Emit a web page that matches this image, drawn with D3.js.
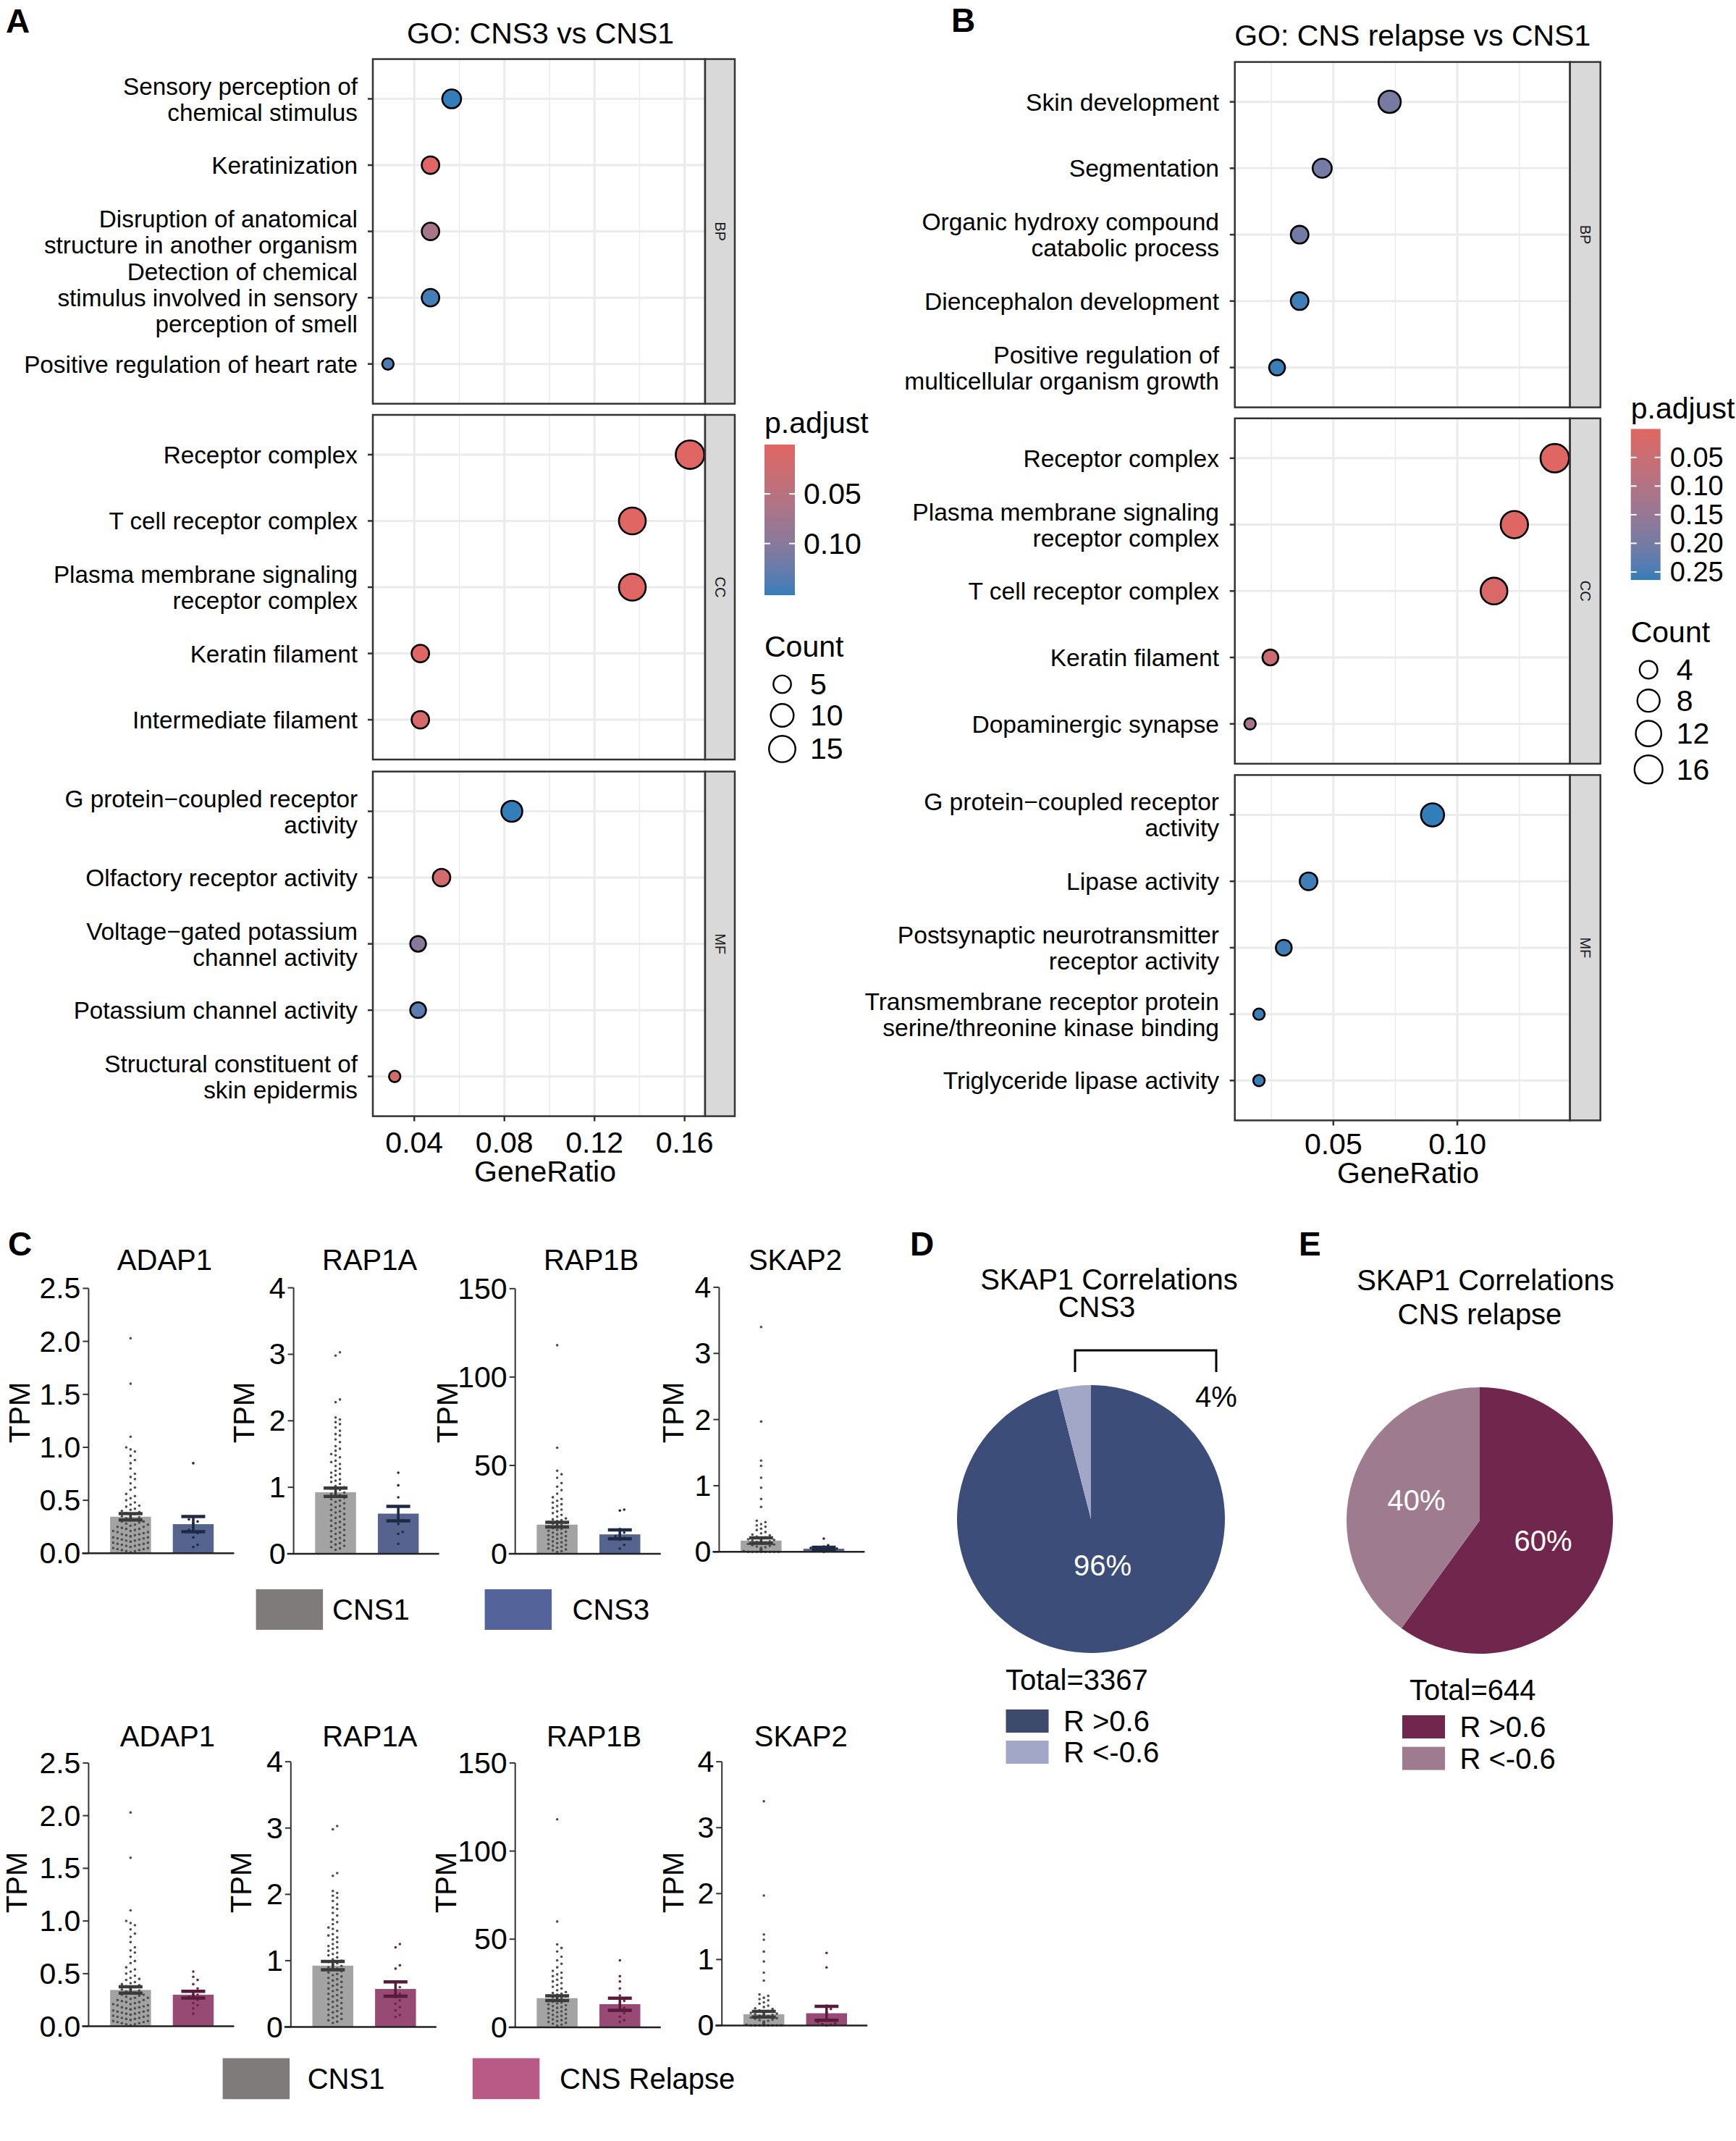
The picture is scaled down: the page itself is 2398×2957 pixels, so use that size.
<!DOCTYPE html>
<html>
<head>
<meta charset="utf-8">
<script src="https://cdn.jsdelivr.net/npm/d3@7"></script>
<style>
  body { margin: 0; background: #fff; }
  svg text { font-family: "Liberation Sans", Arial, Helvetica, sans-serif; fill: #000; }
</style>
</head>
<body>
<svg id="fig" width="2398" height="2957"></svg>
<script>
// 1: DATA

// panel A - GO: CNS3 vs CNS1
const goA_terms = [
  "Sensory perception of\nchemical stimulus", "Keratinization",
  "Disruption of anatomical\nstructure in another organism",
  "Detection of chemical\nstimulus involved in sensory\nperception of smell",
  "Positive regulation of heart rate",
  "Receptor complex", "T cell receptor complex",
  "Plasma membrane signaling\nreceptor complex", "Keratin filament", "Intermediate filament",
  "G protein\u2212coupled receptor\nactivity", "Olfactory receptor activity",
  "Voltage\u2212gated potassium\nchannel activity", "Potassium channel activity",
  "Structural constituent of\nskin epidermis"
];
const goA_ont = ["BP","BP","BP","BP","BP","CC","CC","CC","CC","CC","MF","MF","MF","MF","MF"];
const goA_ratio = [0.0566, 0.0472, 0.0472, 0.0472, 0.0283, 0.1624, 0.1368, 0.1368, 0.0427, 0.0427,
                   0.0833, 0.0521, 0.0417, 0.0417, 0.0313];
const goA_count = [6, 5, 5, 5, 3, 19, 16, 16, 5, 5, 8, 5, 4, 4, 3];
const goA_padj = [0.152, 0.002, 0.07, 0.145, 0.142, 0.0003, 0.001, 0.003, 0.002, 0.012,
                  0.152, 0.02, 0.1, 0.135, 0.015];
const goA_xMajor = [0.04, 0.08, 0.12, 0.16];
const goA_xMinor = [0.06, 0.10, 0.14];
const goA_colorBreaks = [0.05, 0.10];
const goA_sizeBreaks = [5, 10, 15];

// panel B - GO: CNS relapse vs CNS1
const goB_terms = [
  "Skin development", "Segmentation", "Organic hydroxy compound\ncatabolic process",
  "Diencephalon development", "Positive regulation of\nmulticellular organism growth",
  "Receptor complex", "Plasma membrane signaling\nreceptor complex", "T cell receptor complex",
  "Keratin filament", "Dopaminergic synapse",
  "G protein\u2212coupled receptor\nactivity", "Lipase activity",
  "Postsynaptic neurotransmitter\nreceptor activity",
  "Transmembrane receptor protein\nserine/threonine kinase binding", "Triglyceride lipase activity"
];
const goB_ont = ["BP","BP","BP","BP","BP","CC","CC","CC","CC","CC","MF","MF","MF","MF","MF"];
const goB_ratio = [0.0727, 0.0455, 0.0364, 0.0364, 0.0273, 0.1393, 0.1230, 0.1148, 0.0246, 0.0164,
                   0.09, 0.04, 0.03, 0.02, 0.02];
const goB_count = [8, 5, 4, 4, 3, 17, 15, 14, 3, 2, 9, 4, 3, 2, 2];
const goB_padj = [0.198, 0.2, 0.205, 0.256, 0.26, 0.0002, 0.004, 0.015, 0.05, 0.12,
                  0.264, 0.255, 0.255, 0.26, 0.26];
const goB_xMajor = [0.05, 0.10];
const goB_xMinor = [0.025, 0.075, 0.125];
const goB_colorBreaks = [0.05, 0.10, 0.15, 0.20, 0.25];
const goB_sizeBreaks = [4, 8, 12, 16];

const ontologies = ["BP", "CC", "MF"];

// panel C - TPM bar charts
const genes = ["ADAP1", "RAP1A", "RAP1B", "SKAP2"];
const geneMax = [2.5, 4, 150, 4];
const geneTicks = [[0, 0.5, 1, 1.5, 2, 2.5], [0, 1, 2, 3, 4], [0, 50, 100, 150], [0, 1, 2, 3, 4]];
const cns1Mean = [0.345, 0.925, 16.5, 0.17];
const cns1Sem = [0.03, 0.062, 1.3, 0.042];
const cns3Mean = [0.275, 0.604, 11, 0.047];
const cns3Sem = [0.072, 0.108, 2.5, 0.021];
const relapseMean = [0.30, 0.573, 13.1, 0.185];
const relapseSem = [0.032, 0.108, 3.45, 0.106];

const cns1Points = [
  [2.03, 1.6, 1.1, 1.0, 0.98, 0.96, 0.92, 0.88, 0.85, 0.80, 0.75, 0.72, 0.70, 0.66, 0.62, 0.60,
   0.56, 0.54, 0.52, 0.50, 0.48, 0.46, 0.45, 0.44, 0.42, 0.41, 0.40, 0.39, 0.38, 0.37, 0.36, 0.35,
   0.34, 0.33, 0.32, 0.31, 0.30, 0.30, 0.29, 0.28, 0.27, 0.27, 0.26, 0.25, 0.25, 0.24, 0.23, 0.23,
   0.22, 0.21, 0.21, 0.20, 0.20, 0.19, 0.18, 0.18, 0.17, 0.17, 0.16, 0.16, 0.15, 0.15, 0.14, 0.14,
   0.13, 0.13, 0.12, 0.12, 0.11, 0.11, 0.10, 0.10, 0.09, 0.09, 0.08, 0.08, 0.07, 0.07, 0.06, 0.06,
   0.05, 0.05, 0.04, 0.04, 0.03, 0.03, 0.02, 0.02, 0.01],
  [3.03, 2.98, 2.32, 2.28, 2.05, 2.02, 1.98, 1.95, 1.90, 1.85, 1.80, 1.78, 1.72, 1.68, 1.62, 1.58,
   1.55, 1.50, 1.48, 1.45, 1.40, 1.38, 1.35, 1.32, 1.28, 1.25, 1.22, 1.20, 1.18, 1.15, 1.12, 1.10,
   1.08, 1.05, 1.02, 1.00, 0.98, 0.96, 0.94, 0.92, 0.90, 0.88, 0.86, 0.84, 0.82, 0.80, 0.78, 0.76,
   0.74, 0.72, 0.70, 0.68, 0.66, 0.64, 0.62, 0.60, 0.58, 0.56, 0.54, 0.52, 0.50, 0.48, 0.46, 0.44,
   0.42, 0.40, 0.38, 0.36, 0.34, 0.32, 0.30, 0.28, 0.26, 0.24, 0.22, 0.20, 0.18, 0.16, 0.14, 0.12,
   0.10, 0.08, 0.06],
  [118, 60, 47, 45, 43, 40, 38, 36, 34, 32, 31, 30, 29, 28, 27, 26, 25, 24, 23, 22, 21, 20, 19.5,
   19, 18.5, 18, 17.5, 17, 16.5, 16, 15.5, 15, 14.5, 14, 13.5, 13, 12.5, 12, 11.5, 11, 10.5, 10,
   9.5, 9, 8.5, 8, 7.5, 7, 6.5, 6, 5.5, 5, 4.5, 4, 3.5, 3, 2.5, 2, 1.5, 1],
  [3.4, 1.97, 1.38, 1.3, 1.12, 0.97, 0.8, 0.68, 0.47, 0.45, 0.42, 0.4, 0.38, 0.35, 0.33, 0.3, 0.28,
   0.26, 0.25, 0.23, 0.22, 0.2, 0.19, 0.18, 0.17, 0.16, 0.15, 0.14, 0.13, 0.12, 0.11, 0.1, 0.09,
   0.08, 0.07, 0.06, 0.05, 0.05, 0.04, 0.04, 0.03, 0.03, 0.03, 0.02, 0.02, 0.02, 0.01, 0.01, 0.01,
   0.01, 0, 0, 0, 0, 0, 0, 0, 0]
];
const cns3Points = [
  [0.85, 0.32, 0.30, 0.28, 0.22, 0.20, 0.19, 0.15, 0.08, 0.06],
  [1.22, 1.03, 0.85, 0.55, 0.50, 0.45, 0.33, 0.30, 0.15],
  [25, 24.5, 14, 12, 11, 10, 9, 8, 5, 3],
  [0.2, 0.1, 0.08, 0.06, 0.05, 0.04, 0.03, 0.02, 0.01, 0]
];
const relapsePoints = [
  [0.52, 0.47, 0.44, 0.40, 0.36, 0.33, 0.30, 0.28, 0.27, 0.25, 0.22, 0.20, 0.17, 0.12],
  [1.25, 1.20, 0.93, 0.88, 0.60, 0.55, 0.50, 0.45, 0.40, 0.35, 0.30, 0.25, 0.18, 0.15],
  [38, 29, 26, 22, 18, 15, 13, 11, 10, 8, 6, 4, 3],
  [1.1, 0.88, 0.3, 0.25, 0.2, 0.1, 0.05, 0.03, 0.02, 0.01, 0]
];

// panels D, E - SKAP1 correlations
const pieLabels = ["R >0.6", "R <-0.6"];
const pieD = [96, 4];
const pieE = [60, 40];
const totalD = 3367;
const totalE = 644;

// 2: HELPERS
const svg = d3.select("#fig");

function label(x, y, txt, size, anchor, opts = {}) {
  const t = svg.append("text")
    .attr("x", x).attr("y", y)
    .attr("font-size", size + "px")
    .attr("text-anchor", anchor || "start")
    .attr("dominant-baseline", "central")
    .text(txt);
  if (opts.bold) t.attr("font-weight", "bold");
  if (opts.fill) t.style("fill", opts.fill);
  if (opts.rotate) t.attr("transform", `rotate(${opts.rotate},${x},${y})`);
  return t;
}

// ggplot-like continuous expansion
function expand5(ext) {
  const d = (ext[1] - ext[0]) * 0.05;
  return [ext[0] - d, ext[1] + d];
}

// 3: GO DOT PLOTS
function dotPlot(o) {
  const x = d3.scaleLinear().domain(expand5(d3.extent(o.ratio))).range([o.left, o.right]);
  const color = d3.scaleLinear().domain(d3.extent(o.padj))
    .range(["#e06663", "#327eba"]).interpolate(d3.interpolateLab);
  const sizeT = d3.scaleLinear().domain(d3.extent(o.count)).range([0, 1]);
  const rOut = d3.scaleSqrt().domain([0, 1]).range([9.2, 21]);
  const rad = c => rOut(sizeT(c));

  label((o.left + o.right) / 2 + o.titleShift, o.titleY, o.title, 41, "middle");

  ontologies.forEach((ont, k) => {
    const top = o.tops[k], bottom = top + o.panelH;
    const idx = d3.range(o.terms.length).filter(i => o.ont[i] === ont);
    const y = d3.scalePoint().domain(idx).range([top, bottom]).padding(0.6);
    const g = svg.append("g");

    g.selectAll(".minor").data(o.xMinor).join("line")
      .attr("x1", d => x(d)).attr("x2", d => x(d))
      .attr("y1", top).attr("y2", bottom)
      .attr("stroke", "#ebebeb").attr("stroke-width", 1.5);
    g.selectAll(".major").data(o.xMajor).join("line")
      .attr("x1", d => x(d)).attr("x2", d => x(d))
      .attr("y1", top).attr("y2", bottom)
      .attr("stroke", "#ebebeb").attr("stroke-width", 3);
    g.selectAll(".hgrid").data(idx).join("line")
      .attr("x1", o.left).attr("x2", o.right)
      .attr("y1", d => y(d)).attr("y2", d => y(d))
      .attr("stroke", "#ebebeb").attr("stroke-width", 3);

    g.selectAll(".dot").data(idx).join("circle")
      .attr("cx", d => x(o.ratio[d]))
      .attr("cy", d => y(d))
      .attr("r", d => rad(o.count[d]) - 1.3)
      .attr("fill", d => color(o.padj[d]))
      .attr("stroke", "#000").attr("stroke-width", 2.6);

    // frame + strip
    g.append("rect").attr("x", o.left).attr("y", top)
      .attr("width", o.right - o.left).attr("height", o.panelH)
      .attr("fill", "none").attr("stroke", "#333").attr("stroke-width", 2.5);
    g.append("rect").attr("x", o.right).attr("y", top)
      .attr("width", o.stripW).attr("height", o.panelH)
      .attr("fill", "#d9d9d9").attr("stroke", "#333").attr("stroke-width", 2.5);
    label(o.right + o.stripW / 2, top + o.panelH / 2, ont, 20, "middle",
      { rotate: 90, fill: "#1a1a1a" });

    // y ticks & labels
    idx.forEach(i => {
      g.append("line").attr("x1", o.left - 7).attr("x2", o.left)
        .attr("y1", y(i)).attr("y2", y(i))
        .attr("stroke", "#333").attr("stroke-width", 2.5);
      const lines = o.terms[i].split("\n");
      const t = g.append("text")
        .attr("x", o.labelX).attr("y", y(i))
        .attr("font-size", o.labelSize + "px").attr("text-anchor", "end")
        .attr("dominant-baseline", "central");
      lines.forEach((ln, j) => {
        t.append("tspan").attr("x", o.labelX)
          .attr("y", y(i) + (j - (lines.length - 1) / 2) * 36)
          .text(ln);
      });
    });
  });

  // x axis below last panel
  const axBottom = o.tops[2] + o.panelH;
  o.xMajor.forEach(v => {
    svg.append("line").attr("x1", x(v)).attr("x2", x(v))
      .attr("y1", axBottom).attr("y2", axBottom + 7)
      .attr("stroke", "#333").attr("stroke-width", 2.5);
    label(x(v), o.tickY, d3.format(".2f")(v), 41, "middle");
  });
  label(o.xLabelX, o.xLabelY, "GeneRatio", 41, "middle");

  // colour legend
  const cb = o.cbar;
  label(cb.left, cb.titleY, "p.adjust", 41, "start");
  const gradId = "grad" + o.id;
  const grad = svg.append("defs").append("linearGradient").attr("id", gradId)
    .attr("x1", 0).attr("x2", 0).attr("y1", 0).attr("y2", 1);
  const cdom = color.domain();
  d3.range(0, 1.0001, 0.05).forEach(t => {
    grad.append("stop").attr("offset", t)
      .attr("stop-color", color(cdom[0] + t * (cdom[1] - cdom[0])));
  });
  svg.append("rect").attr("x", cb.left).attr("y", cb.top)
    .attr("width", cb.w).attr("height", cb.h).attr("fill", `url(#${gradId})`);
  const cy = d3.scaleLinear().domain(cdom).range([cb.top, cb.top + cb.h]);
  o.colorBreaks.forEach(v => {
    [[cb.left, cb.left + 8], [cb.left + cb.w - 8, cb.left + cb.w]].forEach(([a, b]) => {
      svg.append("line").attr("x1", a).attr("x2", b)
        .attr("y1", cy(v)).attr("y2", cy(v))
        .attr("stroke", "#fff").attr("stroke-width", 2);
    });
    label(cb.left + 54, cy(v), d3.format(".2f")(v), cb.labelSize, "start");
  });

  // size legend
  label(cb.left, o.countY, "Count", 41, "start");
  let yy = o.countY + 31;
  o.sizeBreaks.forEach(c => {
    const r = rad(c);
    const h = Math.max(2 * r + 10, 42);
    const cyk = yy + h / 2;
    svg.append("circle").attr("cx", cb.left + 24.5).attr("cy", cyk)
      .attr("r", r - 1.2).attr("fill", "#fff")
      .attr("stroke", "#000").attr("stroke-width", 2.4);
    label(cb.left + 63, cyk, c, 41, "start");
    yy += h;
  });
}

dotPlot({
  id: "A", terms: goA_terms, ont: goA_ont, ratio: goA_ratio, count: goA_count, padj: goA_padj,
  xMajor: goA_xMajor, xMinor: goA_xMinor, colorBreaks: goA_colorBreaks, sizeBreaks: goA_sizeBreaks,
  left: 515, right: 974, stripW: 41, tops: [81.6, 573, 1065.6], panelH: 476,
  labelX: 494, labelSize: 33.3, title: "GO: CNS3 vs CNS1", titleShift: 2, titleY: 46,
  tickY: 1578, xLabelX: 753, xLabelY: 1618,
  cbar: { left: 1056, top: 614, w: 42, h: 208, titleY: 584, labelSize: 41 }, countY: 893
});

dotPlot({
  id: "B", terms: goB_terms, ont: goB_ont, ratio: goB_ratio, count: goB_count, padj: goB_padj,
  xMajor: goB_xMajor, xMinor: goB_xMinor, colorBreaks: goB_colorBreaks, sizeBreaks: goB_sizeBreaks,
  left: 1705.7, right: 2168.7, stripW: 42, tops: [85.6, 577.8, 1070.4], panelH: 477,
  labelX: 1684, labelSize: 33.6, title: "GO: CNS relapse vs CNS1", titleShift: 14, titleY: 48.8,
  tickY: 1579.6, xLabelX: 1945, xLabelY: 1620,
  cbar: { left: 2252.7, top: 592.4, w: 41, h: 208.6, titleY: 563.7, labelSize: 38 }, countY: 873
});

// 4: TPM BAR CHARTS
function swarm(vals, ys, cx, spacing, maxOff) {
  const pts = vals.map(v => ({ v, y: ys(v) })).sort((a, b) => b.y - a.y);
  const placed = [];
  pts.forEach(p => {
    for (let k = 0; k < 40; k++) {
      const off = (k % 2 ? 1 : -1) * Math.ceil(k / 2) * spacing;
      if (Math.abs(off) > maxOff) continue;
      if (placed.every(q => Math.hypot(q.x - (cx + off), q.y - p.y) >= spacing)) {
        p.x = cx + off; break;
      }
    }
    if (p.x === undefined) p.x = cx;
    placed.push(p);
  });
  return placed;
}

function barRow(o) {
  genes.forEach((gene, i) => {
    const ax = o.axisX[i];
    const y = d3.scaleLinear().domain([0, geneMax[i]]).range([o.y0[i], o.yTop[i]]);
    const x = d3.scaleBand().domain(["CNS1", o.group]).range([ax + 12.4, ax + 190.1])
      .paddingInner(0.348).paddingOuter(0.2);
    const g = svg.append("g");

    label(ax + o.titleDx, o.titleY, gene, 40, "middle");
    label(ax + o.tpmDx[i], o.tpmY, "TPM", 40, "middle", { rotate: -90 });

    // y axis
    g.append("line").attr("x1", ax).attr("x2", ax)
      .attr("y1", y(geneMax[i])).attr("y2", y(0))
      .attr("stroke", "#333").attr("stroke-width", 2);
    geneTicks[i].forEach(v => {
      g.append("line").attr("x1", ax - 8).attr("x2", ax)
        .attr("y1", y(v)).attr("y2", y(v))
        .attr("stroke", "#333").attr("stroke-width", 2);
      label(ax - 11, y(v), i === 0 ? d3.format(".1f")(v) : v, 41, "end");
    });

    const groups = [
      { key: "CNS1", mean: cns1Mean[i], sem: cns1Sem[i], pts: cns1Points[i],
        fill: "#a3a3a3", dot: "#4d4d4d", err: "#3a3a3a" },
      { key: o.group, mean: o.mean[i], sem: o.sem[i], pts: o.points[i],
        fill: o.barFill, dot: o.dotFill, err: o.errColor }
    ];
    groups.forEach(gr => {
      g.append("rect").attr("x", x(gr.key)).attr("width", x.bandwidth())
        .attr("y", y(gr.mean)).attr("height", y(0) - y(gr.mean))
        .attr("fill", gr.fill);
    });
    groups.forEach(gr => {
      const cx = x(gr.key) + x.bandwidth() / 2;
      g.selectAll(null).data(swarm(gr.pts, y, cx, 6, 27)).join("circle")
        .attr("cx", d => d.x).attr("cy", d => d.y).attr("r", 1.8)
        .attr("fill", gr.dot);
    });
    groups.forEach(gr => {
      const cx = x(gr.key) + x.bandwidth() / 2;
      const hi = y(gr.mean + gr.sem), lo = y(gr.mean - gr.sem);
      g.append("line").attr("x1", cx).attr("x2", cx).attr("y1", hi).attr("y2", lo)
        .attr("stroke", gr.err).attr("stroke-width", 3.5);
      [hi, lo].forEach(v => {
        g.append("line").attr("x1", cx - 16.5).attr("x2", cx + 16.5)
          .attr("y1", v).attr("y2", v)
          .attr("stroke", gr.err).attr("stroke-width", 4.5);
      });
    });

    // x baseline
    g.append("line").attr("x1", ax - 9).attr("x2", ax + 201)
      .attr("y1", y(0)).attr("y2", y(0))
      .attr("stroke", "#222").attr("stroke-width", 2.5);
  });

  // legend
  const keys = [["CNS1", "#7f7b7b"], [o.legendLabel, o.legendFill]];
  keys.forEach(([txt, col], k) => {
    svg.append("rect").attr("x", o.legX[k]).attr("y", o.legY)
      .attr("width", 92.5).attr("height", o.legH).attr("fill", col);
    label(o.legTextX[k], o.legY + o.legH / 2, txt, 40, "start");
  });
}

barRow({
  axisX: [122.4, 405.6, 711.7, 993.4], y0: [2145.3, 2146, 2146, 2143.3],
  yTop: [1779.4, 1778.6, 1779.8, 1777.9], titleDx: 105, titleY: 1740,
  tpmDx: [-95, -69, -94, -63], tpmY: 1951,
  group: "CNS3", mean: cns3Mean, sem: cns3Sem, points: cns3Points,
  barFill: "#55648f", dotFill: "#1c2744", errColor: "#1e2a45",
  legendLabel: "CNS3", legendFill: "#54649b",
  legX: [353.6, 669.6], legY: 2195, legH: 56, legTextX: [459, 790.5]
});

barRow({
  axisX: [122.4, 401.8, 711.7, 997.2], y0: [2798.6, 2799.5, 2799.9, 2797.4],
  yTop: [2434.9, 2433.2, 2434.9, 2433.2], titleDx: 109, titleY: 2398,
  tpmDx: [-99, -69, -96, -67], tpmY: 2600,
  group: "CNS Relapse", mean: relapseMean, sem: relapseSem, points: relapsePoints,
  barFill: "#974a73", dotFill: "#6e2148", errColor: "#5a1a3a",
  legendLabel: "CNS Relapse", legendFill: "#b85a85",
  legX: [307.6, 652.8], legY: 2842.6, legH: 56.6, legTextX: [424.7, 773]
});

// 5: PIE CHARTS
function pieChart(o) {
  const pie = d3.pie().sort(null).value(d => d);
  const arcs = pie(o.values);
  const arc = d3.arc().innerRadius(0).outerRadius(o.r);
  const labelArc = d3.arc().innerRadius(o.labelR).outerRadius(o.labelR);
  const g = svg.append("g").attr("transform", `translate(${o.cx},${o.cy})`);
  g.selectAll("path").data(arcs).join("path")
    .attr("d", arc).attr("fill", (d, i) => o.colors[i]);

  o.inside.forEach(i => {
    const [lx, ly] = labelArc.centroid(arcs[i]);
    label(o.cx + lx + (o.labelDx || 0), o.cy + ly, o.values[i] + "%", 40, "middle", { fill: "#fff" });
  });

  o.title.forEach((t, k) => label(o.titleX[k], o.titleY[k], t, 40, "middle"));
  label(o.totalX, o.totalY, `Total=${o.total}`, 40, "start");
  pieLabels.forEach((t, k) => {
    svg.append("rect").attr("x", o.legX).attr("y", o.legY[k])
      .attr("width", 59).attr("height", 32).attr("fill", o.legColors[k]);
    label(o.legX + 79.5, o.legY[k] + 16, t, 40, "start");
  });
}

pieChart({
  values: pieD, cx: 1507, cy: 2098, r: 185, labelR: 65, labelDx: 8, inside: [0],
  colors: ["#3b4d78", "#a3a7c7"], legColors: ["#3e4a6c", "#a3a7c7"],
  title: ["SKAP1 Correlations", "CNS3"], titleX: [1532, 1515], titleY: [1767, 1805],
  total: totalD, totalX: 1389, totalY: 2320, legX: 1389.5, legY: [2361, 2404]
});

pieChart({
  values: pieE, cx: 2044, cy: 2100, r: 184, labelR: 92, inside: [0, 1],
  colors: ["#71264d", "#9e7b8e"], legColors: ["#71264d", "#9e7b8e"],
  title: ["SKAP1 Correlations", "CNS relapse"], titleX: [2052, 2044], titleY: [1768, 1815],
  total: totalE, totalX: 1947, totalY: 2333.5, legX: 1937, legY: [2369, 2412.6]
});

// small-slice bracket for D
svg.append("path")
  .attr("d", "M1485,1895 V1865 H1680 V1895")
  .attr("fill", "none").attr("stroke", "#000").attr("stroke-width", 3);
label(1680, 1929, pieD[1] + "%", 40, "middle");

// 6: PANEL LETTERS
[["A", 8, 45], ["B", 1314, 43.5], ["C", 11, 1733.5], ["D", 1257, 1734], ["E", 1794, 1734]]
  .forEach(([t, x, y]) => {
    svg.append("text").attr("x", x).attr("y", y)
      .attr("font-size", "46px").attr("font-weight", "bold").text(t);
  });
</script>
</body>
</html>
